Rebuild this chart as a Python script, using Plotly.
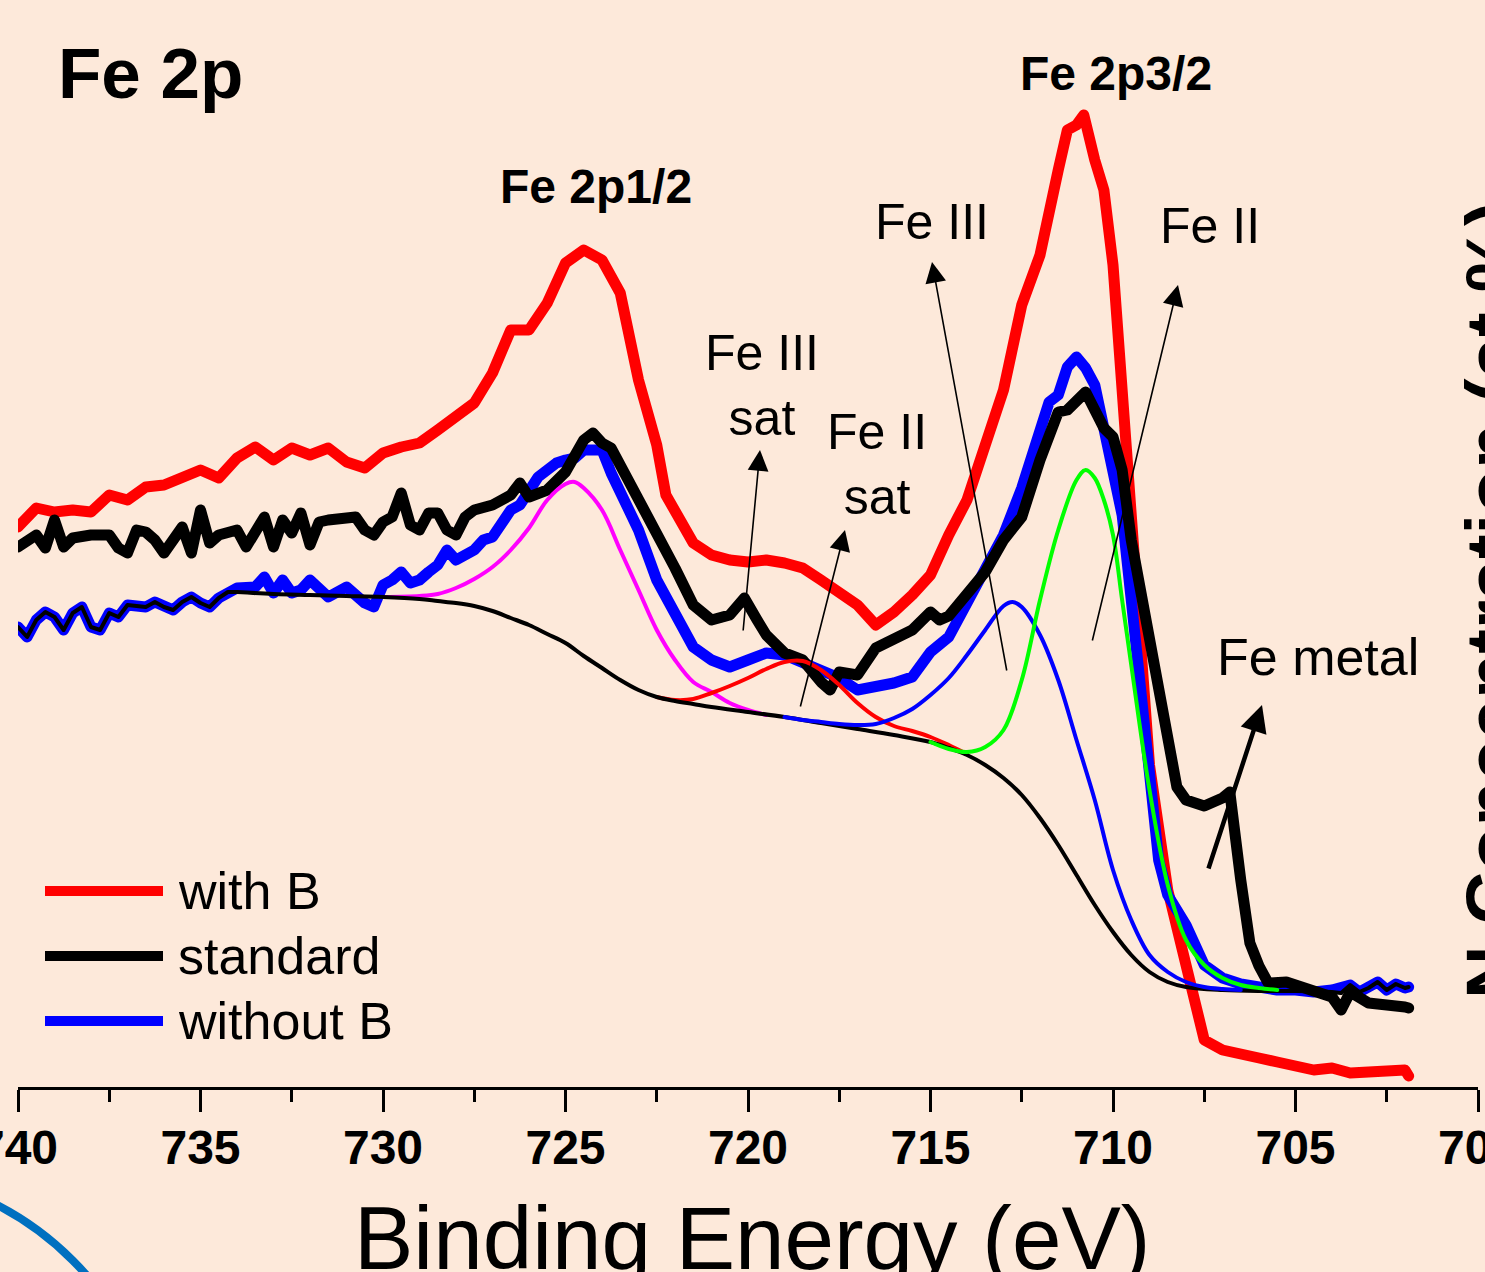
import plotly.graph_objects as go

# ---------------- data (binding energy in eV, intensity in a.u.) ----------------
with_b_ev = [740, 739.5, 739, 738.5, 738, 737.5, 737, 736.5, 736, 735.5, 735, 734.5, 734, 733.5, 733,
             732.5, 732, 731.5, 731, 730.5, 730, 729.5, 729, 728.5, 728, 727.5, 727, 726.5, 726, 725.5,
             725, 724.5, 724, 723.5, 723, 722.5, 722.25, 722, 721.5, 721, 720.5, 720, 719.5, 719, 718.5,
             718, 717.5, 717, 716.5, 716, 715.5, 715, 714.5, 714, 713.5, 713, 712.5, 712, 711.5, 711.25,
             711, 710.8, 710.5, 710.25, 710, 709.75, 709.5, 709, 708.5, 708, 707.5, 707, 706.5, 706, 705.5,
             705, 704.5, 704, 703.5, 703, 702.5, 702, 701.9]
with_b_int = [560, 579, 575, 577, 575, 592, 587, 600, 602, 609, 617, 609, 629, 640, 627,
              639, 632, 639, 625, 619, 634, 640, 644, 657, 671, 684, 714, 757, 757, 784,
              824, 837, 827, 794, 707, 642, 592, 575, 544, 532, 527, 525, 527, 524, 519,
              507, 494, 482, 462, 475, 492, 512, 552, 587, 642, 697, 782, 832, 917, 957,
              962, 972, 927, 897, 822, 697, 542, 322, 197, 122, 47, 37, 32, 29, 25,
              22, 17, 19, 14, 15, 16, 17, 11]

standard_ev = [740, 739.75, 739.5, 739.25, 739, 738.75, 738.5, 738, 737.5, 737.25, 737, 736.75, 736.5,
               736.25, 736, 735.5, 735.25, 735, 734.75, 734.5, 734, 733.75, 733.5, 733.25, 733, 732.75,
               732.5, 732.25, 732, 731.75, 731.5, 731, 730.75, 730.5, 730.25, 730, 729.75, 729.5, 729.25,
               729, 728.75, 728.5, 728.25, 728, 727.75, 727.5, 727, 726.5, 726.25, 726, 725.5, 725, 724.5,
               724.25, 724, 723.75, 723.5, 723, 722.5, 722, 721.5, 721, 720.5, 720.25, 720.1, 719.75,
               719.5, 719, 718.5, 718, 717.75, 717.5, 717, 716.5, 716, 715.5, 715, 714.75, 714.5, 714,
               713.5, 713, 712.5, 712, 711.5, 711.25, 711, 710.75, 710.5, 710.25, 710, 709.75, 709.5, 709,
               708.75, 708.5, 708.25, 708, 707.5, 707, 706.8, 706.5, 706.25, 706, 705.75, 705.25, 705,
               704.5, 704, 703.75, 703.5, 703, 702.5, 702, 701.9]
standard_int = [540, 547, 552, 539, 567, 540, 549, 552, 552, 539, 534, 557, 555,
                547, 534, 560, 534, 577, 544, 552, 557, 540, 557, 570, 540, 567,
                554, 574, 542, 565, 567, 570, 570, 557, 552, 565, 570, 594, 562,
                557, 574, 574, 557, 552, 570, 577, 582, 592, 604, 590, 597, 615, 647,
                654, 644, 639, 622, 590, 554, 519, 482, 467, 472, 482, 489, 467,
                452, 434, 427, 405, 397, 415, 412, 439, 449, 457, 475, 467, 471, 495,
                515, 547, 570, 627, 675, 677, 687, 695, 677, 659, 650, 617, 547, 447,
                397, 352, 300, 287, 281, 289, 295, 207, 144, 121, 104, 105, 102,
                94, 90, 77, 95, 84, 83, 80, 79]

without_b_ev = [740, 739.75, 739.5, 739.25, 739, 738.75, 738.5, 738.25, 738, 737.75, 737.5, 737.25, 737,
                736.5, 736.25, 736, 735.75, 735.5, 735.25, 735, 734.75, 734.5, 734.25, 734, 733.5, 733.25,
                733, 732.75, 732.5, 732.25, 732, 731.75, 731.5, 731, 730.5, 730.25, 730, 729.75, 729.5,
                729.25, 729, 728.75, 728.5, 728.25, 728, 727.5, 727.25, 727, 726.75, 726.5, 726.25, 726,
                725.75, 725.5, 725.25, 725, 724.75, 724.5, 724, 723.75, 723.5, 723, 722.5, 722, 721.5, 721,
                720.5, 720, 719.5, 719, 718.5, 718, 717.5, 717, 716.5, 716, 715.5, 715, 714.5, 714, 713.5,
                713, 712.5, 712, 711.75, 711.5, 711.25, 711, 710.75, 710.5, 710.25, 710, 709.75, 709.5,
                709.25, 709, 708.75, 708.5, 708.25, 708, 707.5, 707, 706.5, 706, 705.5, 705, 704.5, 704,
                703.5, 703.25, 703, 702.75, 702.5, 702.25, 702, 701.9]
without_b_int = [460, 450, 467, 475, 470, 457, 474, 480, 460, 457, 474, 470, 482,
                 480, 485, 480, 477, 485, 490, 484, 480, 489, 495, 499, 500, 510,
                 494, 507, 494, 497, 507, 497, 490, 500, 484, 480, 502, 507, 515,
                 504, 507, 515, 522, 537, 527, 537, 547, 550, 565, 577, 582, 597,
                 610, 617, 624, 627, 629, 637, 637, 614, 594, 557, 507, 472, 440, 427,
                 420, 427, 434, 432, 425, 417, 409, 397, 400, 404, 410, 435, 450, 484, 517,
                 552, 599, 662, 685, 692, 720, 730, 719, 702, 662, 622, 572, 487,
                 397, 297, 227, 192, 175, 162, 122, 109, 103, 99, 97, 97, 95, 97,
                 102, 95, 99, 105, 97, 103, 99, 100]

# fitted components
envelope_ev = [740, 739.75, 739.5, 739.25, 739, 738.75, 738.5, 738.25, 738, 737.75, 737.5, 737.25, 737,
               736.5, 736.25, 736, 735.75, 735.5, 735.25, 735, 734.75, 734.5, 734.25, 734, 733, 732, 731,
               730, 729, 728.5, 728, 727.5, 727, 726.5, 726, 725.5, 725, 724.5, 724, 723.5, 723, 722.5,
               722, 721.5, 721, 720, 719, 718, 717, 716, 715, 714.5, 714, 713.5, 713, 712.5, 712, 711.5,
               711, 710.5, 710, 709.5, 709, 708.5, 708, 707, 706, 705, 704, 703.75, 703.5, 703.25, 703,
               702.75, 702.5, 702.25, 702, 701.9]
envelope_int = [460, 450, 467, 475, 470, 457, 474, 480, 460, 457, 474, 470, 482,
                480, 485, 480, 477, 485, 490, 484, 480, 489, 495, 495, 493, 492, 491,
                490, 488, 486, 484, 481, 476, 469, 462, 453, 444, 431, 419, 407, 397, 390,
                386, 383, 380, 375, 370, 364, 358, 352, 345, 339, 332, 322, 309, 292, 269, 242,
                212, 182, 155, 132, 115, 105, 100, 97, 96, 96, 95, 94, 102, 95, 99,
                105, 97, 103, 99, 100]
envelope_split = 24  # first points follow the measured curve, the rest is the smooth background

fe3_2p12_ev = [730, 729, 728.5, 728, 727.5, 727, 726.5, 726, 725.5, 725, 724.75, 724.5, 724, 723.5,
               723, 722.5, 722, 721.5, 721, 720.5, 720, 719.5]
fe3_2p12_int = [490, 491, 493, 499, 508, 520, 537, 559, 587, 603, 605, 599, 577, 537,
                497, 457, 427, 405, 395, 384, 377, 372]

fe2_sat_ev = [722.5, 722, 721.5, 721, 720.5, 720, 719.5, 719, 718.5, 718, 717.5, 717, 716.5, 716,
              715.5, 715, 714.5, 714]
fe2_sat_int = [390, 387, 388, 394, 401, 409, 418, 425, 426, 417, 402, 384, 370, 361,
               356, 350, 342, 333]

fe3_ev = [719, 718.5, 718, 717.5, 717, 716.5, 716, 715.5, 715, 714.5, 714, 713.5, 713, 712.75, 712.5,
          712, 711.5, 711, 710.5, 710, 709.5, 709, 708.5, 708, 707.5, 707, 706.5]
fe3_int = [370, 367, 365, 363, 362, 363, 369, 378, 392, 409, 432, 457, 481, 485, 480,
           452, 407, 347, 287, 217, 167, 132, 115, 105, 100, 98, 97]

fe2_ev = [715, 714.5, 714, 713.5, 713, 712.5, 712, 711.5, 711, 710.75, 710.5, 710.25, 710, 709.75,
          709.5, 709, 708.5, 708, 707.5, 707, 706.5, 706, 705.5]
fe2_int = [345, 338, 335, 340, 357, 407, 487, 557, 607, 617, 609, 587, 552, 487,
           422, 297, 202, 147, 122, 109, 102, 99, 97]

x_ticks = [740, 735, 730, 725, 720, 715, 710, 705, 700]
x_title = "Binding Energy (eV)"
legend_names = ["with B", "standard", "without B"]
legend_colors = ["#FF0000", "#000000", "#0000FF"]

# ---------------- layout geometry ----------------
W, H = 1485, 1272
ML, MR, MT, MB = 18, 7, 0, 185
PW, PH = W - ML - MR, H - MT - MB
BG = "#FDE9DA"
FONT = "Liberation Sans, Arial, sans-serif"


def px(xp):
    return (xp - ML) / PW


def py(yp):
    return (H - MB - yp) / PH


fig = go.Figure()

thick = 11
fig.add_trace(go.Scatter(x=with_b_ev, y=with_b_int, mode="lines", name="with B",
                         line=dict(color="#FF0000", width=thick)))
fig.add_trace(go.Scatter(x=without_b_ev, y=without_b_int, mode="lines", name="without B",
                         line=dict(color="#0000FF", width=thick)))
fig.add_trace(go.Scatter(x=standard_ev, y=standard_int, mode="lines", name="standard",
                         line=dict(color="#000000", width=thick)))

thin = 4
fig.add_trace(go.Scatter(x=fe3_2p12_ev, y=fe3_2p12_int, mode="lines", name="Fe 2p1/2 fit",
                         line=dict(color="#FF00FF", width=thin, shape="spline", smoothing=1)))
fig.add_trace(go.Scatter(x=fe2_sat_ev, y=fe2_sat_int, mode="lines", name="Fe II sat fit",
                         line=dict(color="#FF0000", width=thin, shape="spline", smoothing=1)))
# envelope: noisy measured-like part (linear) + smooth background (spline)
fig.add_trace(go.Scatter(x=envelope_ev[:envelope_split], y=envelope_int[:envelope_split],
                         mode="lines", name="envelope",
                         line=dict(color="#000000", width=thin)))
fig.add_trace(go.Scatter(x=envelope_ev[envelope_split - 1:-8], y=envelope_int[envelope_split - 1:-8],
                         mode="lines", name="background",
                         line=dict(color="#000000", width=thin, shape="spline", smoothing=1)))
fig.add_trace(go.Scatter(x=envelope_ev[-9:], y=envelope_int[-9:],
                         mode="lines", name="envelope end",
                         line=dict(color="#000000", width=thin)))
fig.add_trace(go.Scatter(x=fe3_ev, y=fe3_int, mode="lines", name="Fe III fit",
                         line=dict(color="#0000FF", width=thin, shape="spline", smoothing=1)))
fig.add_trace(go.Scatter(x=fe2_ev, y=fe2_int, mode="lines", name="Fe II fit",
                         line=dict(color="#00FF00", width=thin, shape="spline", smoothing=1)))

shapes = []
annotations = []

# manual legend (long line samples)
leg_y = [891, 956, 1021]
for name, col, yy in zip(legend_names, legend_colors, leg_y):
    shapes.append(dict(type="line", xref="paper", yref="paper", x0=px(45), x1=px(163),
                       y0=py(yy), y1=py(yy), line=dict(color=col, width=10)))
    annotations.append(dict(text=name, xref="paper", yref="paper", x=px(176), y=py(yy),
                            xanchor="left", yanchor="middle", showarrow=False,
                            font=dict(family=FONT, size=52, color="black")))

# decorative blue arc (neighbouring panel) in bottom-left corner
shapes.append(dict(type="circle", xref="paper", yref="paper",
                   x0=px(-448), x1=px(162), y0=py(1781), y1=py(1171),
                   line=dict(color="#0070C0", width=8)))


def label(text, xc, yc, size, bold=False):
    annotations.append(dict(text=text, xref="paper", yref="paper", x=px(xc), y=py(yc),
                            xanchor="center", yanchor="middle", showarrow=False,
                            font=dict(family=FONT, size=size, color="black",
                                      weight="bold" if bold else "normal")))


label("Fe 2p", 150, 74, 71, bold=True)
label("Fe 2p3/2", 1116, 74, 48, bold=True)
label("Fe 2p1/2", 596, 187, 48, bold=True)
label("Fe III", 932, 222, 50)
label("Fe II", 1210, 226, 50)
label("Fe III<br>sat", 762, 385, 50)
label("Fe II<br>sat", 877, 465, 50)
label("Fe metal", 1318, 657, 52)
# x-axis title (placed explicitly so it can sit partly below the page edge, as in the reference)
label(x_title, 752, 1238, 89)


def arrow(hx, hy, tx, ty, width, size):
    annotations.append(dict(text="", xref="paper", yref="paper", x=px(hx), y=py(hy),
                            ax=tx - hx, ay=ty - hy, axref="pixel", ayref="pixel",
                            showarrow=True, arrowhead=2, arrowsize=size, arrowwidth=width,
                            arrowcolor="black", standoff=0, startstandoff=0))


arrow(760, 450, 743, 632, 1.6, 2.6)
arrow(845, 530, 800, 708, 1.6, 2.6)
arrow(932, 262, 1007, 672, 1.6, 2.6)
arrow(1178, 285, 1092, 642, 1.6, 2.6)
arrow(1262, 705, 1208, 870, 4.5, 1.2)

# partially visible rotated axis title of the neighbouring panel
annotations.append(dict(text="N Concentration (at.%)", xref="paper", yref="paper",
                        x=px(1492), y=py(600), textangle=-90, showarrow=False,
                        xanchor="center", yanchor="middle",
                        font=dict(family=FONT, size=74, color="black", weight="bold")))

fig.update_layout(
    width=W, height=H, autosize=False,
    margin=dict(l=ML, r=MR, t=MT, b=MB, pad=0, autoexpand=False),
    paper_bgcolor=BG, plot_bgcolor=BG,
    showlegend=False,
    shapes=shapes, annotations=annotations,
    font=dict(family=FONT, color="black"),
    xaxis=dict(range=[740, 700], tickvals=x_ticks, ticktext=[str(v) for v in x_ticks],
               automargin=False,
               ticks="outside", ticklen=22, tickwidth=3, tickcolor="black",
               showline=True, linewidth=3, linecolor="black", showgrid=False, zeroline=False,
               ticklabeloverflow="allow", ticklabelstandoff=-6,
               tickfont=dict(family=FONT, size=48, color="black", weight="bold"),
               minor=dict(dtick=2.5, tick0=700, ticks="outside", ticklen=12, tickwidth=3,
                          tickcolor="black", showgrid=False)),
    yaxis=dict(range=[0, PH], visible=False, showgrid=False, zeroline=False, automargin=False),
)

fig.write_html(
    "out.html", config={"displayModeBar": False},
    post_script=("document.body.style.margin='0';document.body.style.overflow='hidden';"
                 "document.querySelectorAll('.scatterlayer path.js-line').forEach("
                 "function(p){p.style.strokeLinejoin='round';p.style.strokeLinecap='round';});"))
